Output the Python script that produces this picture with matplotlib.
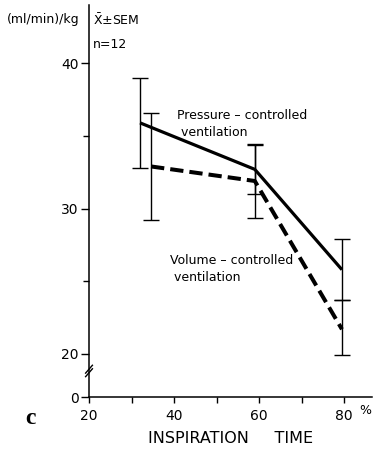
import numpy as np
import matplotlib
matplotlib.use("Agg")
import matplotlib.pyplot as plt

# oxygen uptake vs. inspiration time, mean +- SEM
pc_time = [32, 59, 79.5]
pc_mean = [35.9, 32.7, 25.8]
pc_sem = [3.1, 1.7, 2.1]

vc_time = [34.6, 59, 79.5]
vc_mean = [32.9, 31.9, 21.7]
vc_sem = [3.7, 2.55, 2.0]

x_major = [20, 40, 60, 80]
x_minor = [30, 50, 70]
y_major = [0, 20, 30, 40]
y_minor = [25, 35]

# broken y axis: 0..20 squeezed into a short stretch
SQUEEZE = 0.148


def fwd(y):
    y = np.asarray(y, dtype=float)
    return np.where(y >= 20, y, 20 - (20 - y) * SQUEEZE)


def inv(t):
    t = np.asarray(t, dtype=float)
    return np.where(t >= 20, t, 20 - (20 - t) / SQUEEZE)


plt.rcParams['font.family'] = ['DejaVu Sans']

fig = plt.figure(figsize=(3.74, 4.51), dpi=100)
ax = fig.add_axes([0.238, 0.1197, 0.757, 0.869])
ax.set_yscale('function', functions=(fwd, inv))

ax.errorbar(pc_time, pc_mean, yerr=pc_sem, color='black', lw=2.3,
            elinewidth=1.0, capsize=5.5, capthick=1.0,
            solid_capstyle='butt')
ax.errorbar(vc_time, vc_mean, yerr=vc_sem, color='black', lw=2.9,
            elinewidth=1.0, capsize=5.5, capthick=1.0,
            dashes=(3.3, 1.5), dash_capstyle='butt')

ax.set_xlim(20, 86.6)
ax.set_ylim(0, 44)
ax.set_xticks(x_major)
ax.set_xticks(x_minor, minor=True)
ax.set_yticks(y_major)
ax.set_yticks(y_minor, minor=True)
ax.set_yticklabels([str(v) for v in y_major])
ax.set_xticklabels([str(v) for v in x_major])

for side in ('top', 'right'):
    ax.spines[side].set_visible(False)
for side in ('left', 'bottom'):
    ax.spines[side].set_linewidth(1.1)

ax.tick_params(which='both', direction='out', width=1.0, labelsize=10)
ax.tick_params(axis='x', which='major', length=4.5, pad=4)
ax.tick_params(axis='x', which='minor', length=4.5)
ax.tick_params(axis='y', which='major', length=5.5, pad=2)
ax.tick_params(axis='y', which='minor', length=4.5)

# break marks on the y axis
for off in (0.0, 0.009):
    ax.plot([-0.012, 0.012], [0.052 + off, 0.072 + off], color='black',
            lw=1.0, transform=ax.transAxes, clip_on=False)

ax.set_xlabel('INSPIRATION     TIME', fontsize=11.5, labelpad=6)

ax.text(40.7, 35.85, 'Pressure – controlled\n ventilation', fontsize=9,
        ha='left', va='center', linespacing=1.4)
ax.text(39.1, 25.85, 'Volume – controlled\n ventilation', fontsize=9,
        ha='left', va='center', linespacing=1.4)

fig.text(7 / 374, 1 - 20 / 451, '(ml/min)/kg', fontsize=9, ha='left', va='center')
fig.text(93 / 374, 1 - 20 / 451, r'$\bar{\mathrm{X}}$±SEM', fontsize=9,
         ha='left', va='center')
fig.text(93 / 374, 1 - 44 / 451, 'n=12', fontsize=9, ha='left', va='center')
fig.text(365 / 374, 1 - 411 / 451, '%', fontsize=9, ha='center', va='center')
fig.text(30 / 374, 1 - 419 / 451, 'c', fontsize=17, fontweight='bold',
         family='Liberation Serif', ha='center', va='center')

fig.savefig('out.png', dpi=100)
